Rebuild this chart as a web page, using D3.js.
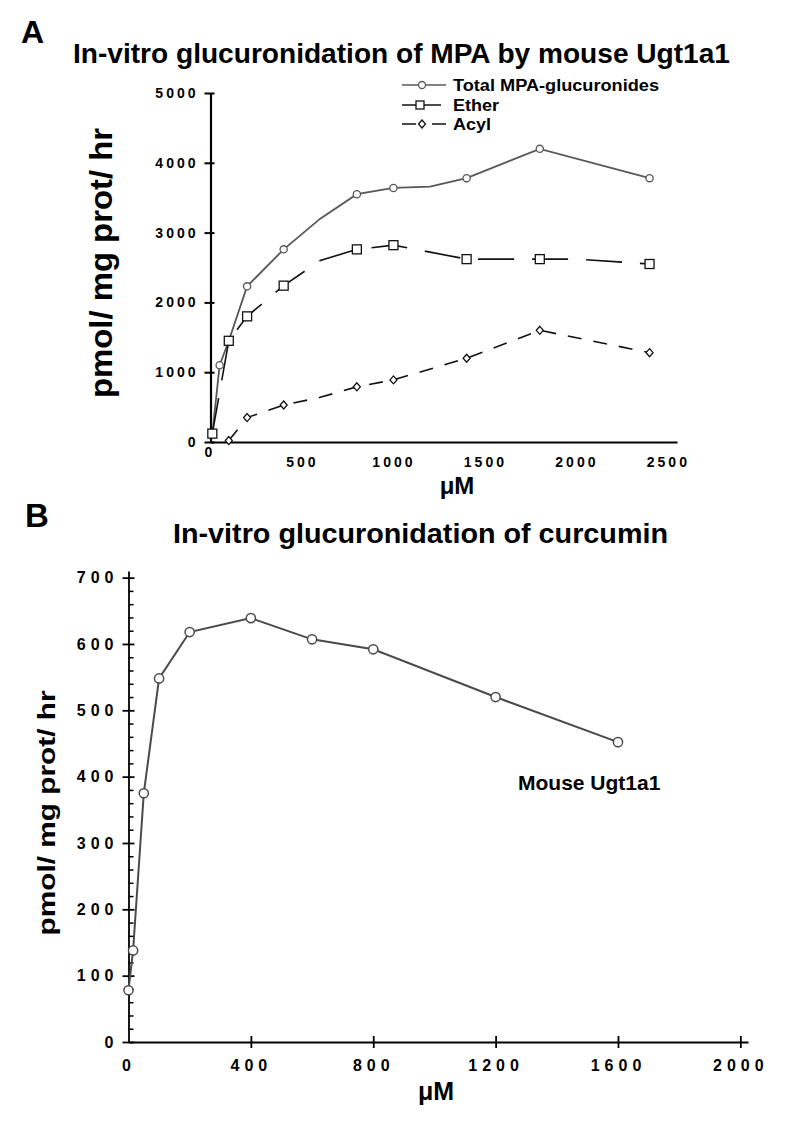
<!DOCTYPE html>
<html>
<head>
<meta charset="utf-8">
<script src="https://d3js.org/d3.v7.min.js"></script>
<style>
body { margin: 0; background: #fff; }
text { font-family: "Liberation Sans", Arial, sans-serif; font-weight: bold; fill: #000; }
</style>
</head>
<body>
<div id="chart"></div>
<script>
// ---- panel A data : MPA glucuronidation (pmol/mg prot/hr vs uM) ----
var totalX    = [10, 50, 100, 200, 400, 600, 800, 1000, 1200, 1400, 1800, 2400];
var totalY    = [120, 1100, 1450, 2230, 2760, 3200, 3550, 3640, 3660, 3780, 4200, 3780];
var totalMark = [1, 1, 1, 1, 1, 0, 1, 1, 0, 1, 1, 1];

var etherX    = [10, 100, 200, 400, 600, 800, 1000, 1400, 1800, 2000, 2400];
var etherY    = [120, 1450, 1800, 2240, 2600, 2760, 2820, 2620, 2620, 2620, 2550];
var etherMark = [1, 1, 1, 1, 0, 1, 1, 1, 1, 0, 1];

var acylX     = [100, 200, 400, 600, 800, 1000, 1400, 1800, 2400];
var acylY     = [20, 350, 530, 640, 790, 890, 1200, 1600, 1280];
var acylMark  = [1, 1, 1, 0, 1, 1, 1, 1, 1];

var aXTicks = [500, 1000, 1500, 2000, 2500];
var aYTicks = [0, 1000, 2000, 3000, 4000, 5000];
var aLegend = ["Total MPA-glucuronides", "Ether", "Acyl"];

// ---- panel B data : curcumin ----
var curX = [0, 15, 50, 100, 200, 400, 600, 800, 1200, 1600];
var curY = [78, 138, 375, 548, 618, 639, 607, 592, 520, 452];
var bXTicks = [0, 400, 800, 1200, 1600, 2000];
var bYTicks = [0, 100, 200, 300, 400, 500, 600, 700];

var svg = d3.select("#chart").append("svg")
    .attr("width", 792)
    .attr("height", 1123);

var fmt = d3.format("d");

// helper: zip x/y/marker arrays
function pts(xs, ys, ms) {
    return xs.map(function(d, i) { return {x: d, y: ys[i], m: ms ? ms[i] : 1}; });
}

var diamond = "M0,-4L3.5,0L0,4L-3.5,0Z";

// ================= PANEL A =================
var xA = d3.scaleLinear().domain([0, 2550]).range([210.5, 677]);
var yA = d3.scaleLinear().domain([0, 5000]).range([442, 93]);

svg.append("text").attr("x", 21).attr("y", 43)
    .style("font-size", "32px").text("A");

svg.append("text").attr("x", 73).attr("y", 63)
    .style("font-size", "27px")
    .attr("textLength", 657).attr("lengthAdjust", "spacingAndGlyphs")
    .text("In-vitro glucuronidation of MPA by mouse Ugt1a1");

// y axis
var gyA = svg.append("g")
    .attr("transform", "translate(" + xA(0) + ",0)")
    .call(d3.axisLeft(yA).tickValues(aYTicks).tickFormat(fmt)
        .tickSizeInner(6).tickSizeOuter(0).tickPadding(6));
gyA.selectAll(".tick line").attr("x1", 4).attr("stroke-width", 2);
gyA.select(".domain").attr("stroke-width", 2.2);
gyA.selectAll(".tick text")
    .style("font-size", "14px").style("letter-spacing", "3px")
    .style("font-family", "Liberation Sans, Arial").style("font-weight", "bold");

// x axis (no tick marks)
var gxA = svg.append("g")
    .attr("transform", "translate(0," + yA(0) + ")")
    .call(d3.axisBottom(xA).tickValues(aXTicks).tickFormat(fmt).tickSize(0).tickPadding(15));
gxA.select(".domain").attr("stroke-width", 2.2);
gxA.selectAll(".tick text")
    .style("font-size", "14px").style("letter-spacing", "3px")
    .style("font-family", "Liberation Sans, Arial").style("font-weight", "bold");

svg.append("text").attr("x", xA(0) - 2).attr("y", yA(0) + 15)
    .attr("text-anchor", "middle").style("font-size", "14px").text("0");

// axis titles
svg.append("text")
    .attr("transform", "translate(112,263) rotate(-90)")
    .attr("text-anchor", "middle")
    .style("font-size", "32px")
    .attr("textLength", 270).attr("lengthAdjust", "spacingAndGlyphs")
    .text("pmol/ mg  prot/ hr");

svg.append("text").attr("x", 457).attr("y", 494)
    .attr("text-anchor", "middle").style("font-size", "24px").text("\u03bcM");

var lineA = d3.line()
    .x(function(d) { return xA(d.x); })
    .y(function(d) { return yA(d.y); });

// total
svg.append("path").datum(pts(totalX, totalY, totalMark))
    .attr("d", lineA).attr("fill", "none")
    .attr("stroke", "#585858").attr("stroke-width", 1.8);
// ether
svg.append("path").datum(pts(etherX, etherY, etherMark))
    .attr("d", lineA).attr("fill", "none")
    .attr("stroke", "#111").attr("stroke-width", 1.6)
    .attr("stroke-dasharray", "36,18");
// acyl
svg.append("path").datum(pts(acylX, acylY, acylMark))
    .attr("d", lineA).attr("fill", "none")
    .attr("stroke", "#111").attr("stroke-width", 1.6)
    .attr("stroke-dasharray", "14,12");

svg.selectAll(".mk-total")
    .data(pts(totalX, totalY, totalMark).filter(function(d) { return d.m; }))
    .enter().append("circle")
    .attr("cx", function(d) { return xA(d.x); })
    .attr("cy", function(d) { return yA(d.y); })
    .attr("r", 3.6).attr("fill", "#fff")
    .attr("stroke", "#585858").attr("stroke-width", 1.3);

svg.selectAll(".mk-ether")
    .data(pts(etherX, etherY, etherMark).filter(function(d) { return d.m; }))
    .enter().append("rect")
    .attr("x", function(d) { return xA(d.x) - 4.5; })
    .attr("y", function(d) { return yA(d.y) - 4.5; })
    .attr("width", 9).attr("height", 9).attr("fill", "#fff")
    .attr("stroke", "#111").attr("stroke-width", 1.3);

svg.selectAll(".mk-acyl")
    .data(pts(acylX, acylY, acylMark).filter(function(d) { return d.m; }))
    .enter().append("path")
    .attr("d", diamond)
    .attr("transform", function(d) { return "translate(" + xA(d.x) + "," + yA(d.y) + ")"; })
    .attr("fill", "#fff").attr("stroke", "#111").attr("stroke-width", 1.3);

// legend
var legRows = [85, 105, 124];
var legLen = [206, 46, 38];
var leg = svg.append("g");
legRows.forEach(function(ly, i) {
    leg.append("line").attr("x1", 402).attr("x2", i == 1 ? 441 : 446)
        .attr("y1", ly).attr("y2", ly)
        .attr("stroke", i == 0 ? "#585858" : "#111").attr("stroke-width", 1.5)
        .attr("stroke-dasharray", i == 2 ? "14,16" : null);
    if (i == 0) {
        leg.append("circle").attr("cx", 422).attr("cy", ly).attr("r", 3.5)
            .attr("fill", "#fff").attr("stroke", "#585858").attr("stroke-width", 1.3);
    } else if (i == 1) {
        leg.append("rect").attr("x", 416).attr("y", ly - 4).attr("width", 8).attr("height", 8)
            .attr("fill", "#fff").attr("stroke", "#111").attr("stroke-width", 1.3);
    } else {
        leg.append("path").attr("d", diamond).attr("transform", "translate(422," + ly + ")")
            .attr("fill", "#fff").attr("stroke", "#111").attr("stroke-width", 1.3);
    }
    leg.append("text").attr("x", 453).attr("y", ly + 6)
        .style("font-size", "16px")
        .attr("textLength", legLen[i]).attr("lengthAdjust", "spacingAndGlyphs")
        .text(aLegend[i]);
});

// ================= PANEL B =================
var xB = d3.scaleLinear().domain([0, 2025]).range([128.5, 748]);
var yB = d3.scaleLinear().domain([0, 710]).range([1042, 571]);

svg.append("text").attr("x", 25).attr("y", 527)
    .style("font-size", "33px").text("B");

svg.append("text").attr("x", 173).attr("y", 543)
    .style("font-size", "28px")
    .attr("textLength", 495).attr("lengthAdjust", "spacingAndGlyphs")
    .text("In-vitro glucuronidation of curcumin");

// minor y ticks (every 20), inside
var minorB = d3.range(0, 701, 20).filter(function(v) { return v % 100 != 0; });
var gmB = svg.append("g")
    .attr("transform", "translate(" + xB(0) + ",0)")
    .call(d3.axisLeft(yB).tickValues(minorB).tickSizeInner(-5).tickSizeOuter(0).tickFormat(""));
gmB.select(".domain").remove();
gmB.selectAll(".tick line").attr("stroke-width", 1.5);

var gyB = svg.append("g")
    .attr("transform", "translate(" + xB(0) + ",0)")
    .call(d3.axisLeft(yB).tickValues(bYTicks).tickFormat(fmt)
        .tickSizeInner(6).tickSizeOuter(0).tickPadding(4));
gyB.selectAll(".tick line").attr("x1", 6).attr("stroke-width", 1.8);
gyB.select(".domain").attr("stroke-width", 1.8);
gyB.selectAll(".tick text")
    .style("font-size", "16px").style("letter-spacing", "5px")
    .style("font-family", "Liberation Sans, Arial").style("font-weight", "bold");

var gxB = svg.append("g")
    .attr("transform", "translate(0," + yB(0) + ")")
    .call(d3.axisBottom(xB).tickValues(bXTicks).tickFormat(fmt)
        .tickSizeInner(6).tickSizeOuter(0).tickPadding(12));
gxB.selectAll(".tick line").attr("y1", -6).attr("stroke-width", 1.8);
gxB.select(".domain").attr("stroke-width", 1.8);
gxB.selectAll(".tick line").filter(function(d) { return d === 0; }).remove();
gxB.selectAll(".tick text")
    .style("font-size", "16px").style("letter-spacing", "5px")
    .style("font-family", "Liberation Sans, Arial").style("font-weight", "bold");

svg.append("text")
    .attr("transform", "translate(55,813) rotate(-90)")
    .attr("text-anchor", "middle")
    .style("font-size", "23px")
    .attr("textLength", 245).attr("lengthAdjust", "spacingAndGlyphs")
    .text("pmol/ mg  prot/   hr");

svg.append("text").attr("x", 436).attr("y", 1100)
    .attr("text-anchor", "middle").style("font-size", "25px").text("\u03bcM");

var lineB = d3.line()
    .x(function(d) { return xB(d.x); })
    .y(function(d) { return yB(d.y); });

svg.append("path").datum(pts(curX, curY))
    .attr("d", lineB).attr("fill", "none")
    .attr("stroke", "#4a4a4a").attr("stroke-width", 2);

svg.selectAll(".mk-cur")
    .data(pts(curX, curY))
    .enter().append("circle")
    .attr("cx", function(d) { return xB(d.x); })
    .attr("cy", function(d) { return yB(d.y); })
    .attr("r", 4.6).attr("fill", "#fff")
    .attr("stroke", "#4a4a4a").attr("stroke-width", 1.5);

svg.append("text").attr("x", 518).attr("y", 790)
    .style("font-size", "21px").text("Mouse Ugt1a1");
</script>
</body>
</html>
